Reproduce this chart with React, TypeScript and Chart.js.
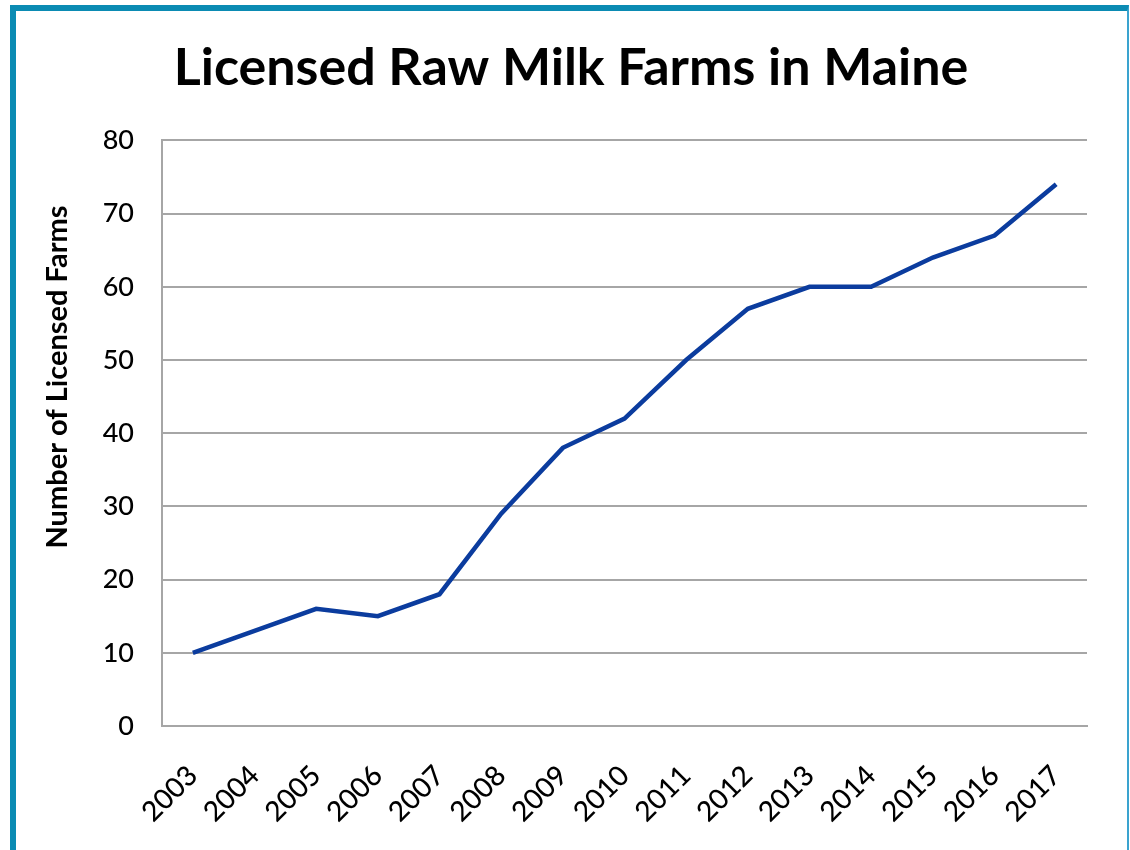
import React, { useEffect, useRef } from "react";
import { Chart, registerables } from "chart.js";

Chart.register(...registerables);

const years = ["2003", "2004", "2005", "2006", "2007", "2008", "2009", "2010", "2011", "2012", "2013", "2014", "2015", "2016", "2017"];
const farms = [10, 13, 16, 15, 18, 29, 38, 42, 50, 57, 60, 60, 64, 67, 74];
const titleText = "Licensed Raw Milk Farms in Maine";
const yAxisTitle = "Number of Licensed Farms";

const yTitlePlugin = {
  id: "yTitleCustom",
  afterDraw(chart: any) {
    const ctx = chart.ctx;
    ctx.save();
    ctx.translate(58, 377);
    ctx.rotate(-Math.PI / 2);
    ctx.textAlign = "center";
    ctx.textBaseline = "middle";
    ctx.fillStyle = "#000";
    ctx.font = "bold 29px Lato";
    ctx.fillText(yAxisTitle, 0, 0);
    ctx.restore();
  },
};

export default function App() {
  const ref = useRef<HTMLCanvasElement>(null);
  useEffect(() => {
    if (!ref.current) return;
    const chart = new Chart(ref.current, {
      type: "line",
      data: {
        labels: years,
        datasets: [
          {
            data: farms,
            borderColor: "#0b3c9e",
            borderWidth: 4.5,
            pointRadius: 0,
            tension: 0,
            fill: false,
          },
        ],
      },
      plugins: [yTitlePlugin],
      options: {
        animation: false,
        responsive: false,
        maintainAspectRatio: false,
        layout: { padding: { left: 55, right: 43, top: 0, bottom: 0 } },
        plugins: {
          legend: { display: false },
          tooltip: { enabled: false },
          title: {
            display: true,
            text: titleText,
            color: "#000",
            font: { family: "Lato", size: 52, weight: "bold" },
            padding: { top: 37, bottom: 41 },
          },
        },
        scales: {
          x: {
            offset: true,
            grid: { display: false, drawTicks: false },
            border: { display: true, color: "#a6a6a6", width: 2 },
            ticks: {
              color: "#000",
              font: { family: "Lato", size: 28, weight: "500" },
              minRotation: 45,
              maxRotation: 45,
              padding: 33,
              autoSkip: false,
            },
            afterFit: (s: any) => {
              s.height = 124;
            },
          },
          y: {
            min: 0,
            max: 80,
            ticks: {
              stepSize: 10,
              color: "#000",
              font: { family: "Lato", size: 27, weight: "500" },
              padding: 28,
            },
            grid: { color: "#a6a6a6", lineWidth: 2, drawTicks: false },
            border: { display: true, color: "#a6a6a6", width: 2 },
            afterFit: (s: any) => {
              s.width = 107;
            },
          },
        },
      },
    });
    return () => chart.destroy();
  }, []);
  return (
    <div style={{ position: "absolute", left: 0, top: 0, width: 1130, height: 850, background: "#fff", overflow: "hidden" }}>
      <div
        style={{
          position: "absolute",
          left: 10,
          top: 5,
          width: 1111,
          height: 900,
          borderLeft: "6px solid #0b8bb3",
          borderTop: "6px solid #0b8bb3",
          borderRight: "2px solid #3aa3cf",
        }}
      />
      <canvas ref={ref} width={1130} height={850} style={{ position: "absolute", left: 0, top: 0 }} />
    </div>
  );
}
